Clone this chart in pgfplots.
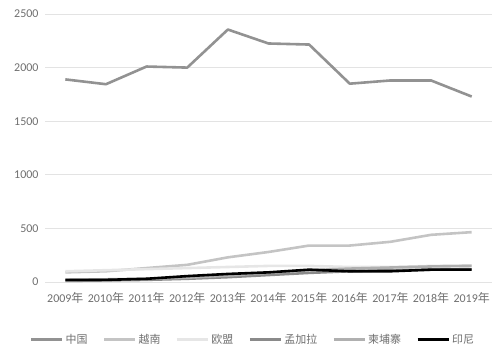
\documentclass[border=0pt]{standalone}
\usepackage{fontspec}
\setmainfont{Carlito}
\newfontfamily\cjk{Noto Sans CJK SC}
\usepackage{pgfplots}
\pgfplotsset{compat=1.18}
\definecolor{txt}{HTML}{6F6F6F}
\definecolor{grid}{HTML}{E3E3E3}
\definecolor{cCN}{HTML}{929292}
\definecolor{cVN}{HTML}{C4C4C4}
\definecolor{cEU}{HTML}{E6E6E6}
\definecolor{cBD}{HTML}{8A8A8A}
\definecolor{cKH}{HTML}{B0B0B0}
\definecolor{cID}{HTML}{000000}
\begin{document}
\begin{tikzpicture}
\begin{axis}[
  name=ax,
  at={(0,0)}, anchor=south west,
  scale only axis,
  width=447bp, height=268bp,
  xmin=-0.5, xmax=10.5,
  ymin=0, ymax=2500,
  xtick={0,...,10},
  xticklabels={2009{\cjk 年},2010{\cjk 年},2011{\cjk 年},2012{\cjk 年},2013{\cjk 年},2014{\cjk 年},2015{\cjk 年},2016{\cjk 年},2017{\cjk 年},2018{\cjk 年},2019{\cjk 年}},
  ytick={0,500,...,2500},
  /pgf/number format/assume math mode=true,
  /pgf/number format/set thousands separator={},
  ticklabel style={font=\fontsize{12}{14}\selectfont, text=txt},
  axis line style={draw=none},
  major tick length=0pt,
  ymajorgrids, grid style={draw=grid, line width=0.9bp},
  xticklabel style={yshift=-10bp, inner sep=0pt},
  yticklabel style={xshift=-3bp},
  every axis plot/.append style={line width=2.6bp, line join=round, mark=none},
  legend style={draw=none, at={(0.465,-0.18)}, anchor=north, legend columns=6,
    font=\cjk\fontsize{11}{13}\selectfont, text=txt,
    /tikz/every even column/.append style={column sep=13bp},
    /tikz/every odd column/.append style={inner xsep=1bp}},
  legend image code/.code={\draw[#1, line width=3bp] (-2bp,0bp) -- (29bp,0bp);},
  clip=false,
]
\addplot[cCN] coordinates {(0,1890)(1,1845)(2,2010)(3,2000)(4,2355)(5,2225)(6,2215)(7,1850)(8,1880)(9,1880)(10,1730)};
\addlegendentry{中国}
\addplot[cVN] coordinates {(0,90)(1,100)(2,130)(3,160)(4,230)(5,280)(6,340)(7,340)(8,375)(9,440)(10,465)};
\addlegendentry{越南}
\addplot[cEU] coordinates {(0,100)(1,110)(2,120)(3,130)(4,140)(5,150)(6,150)(7,140)(8,140)(9,150)(10,155)};
\addlegendentry{欧盟}
\addplot[cBD] coordinates {(0,10)(1,15)(2,20)(3,30)(4,45)(5,65)(6,85)(7,100)(8,110)(9,115)(10,120)};
\addlegendentry{孟加拉}
\addplot[cKH] coordinates {(0,20)(1,25)(2,30)(3,40)(4,60)(5,85)(6,110)(7,125)(8,135)(9,145)(10,150)};
\addlegendentry{柬埔寨}
\addplot[cID] coordinates {(0,20)(1,20)(2,30)(3,55)(4,75)(5,90)(6,115)(7,100)(8,100)(9,115)(10,115)};
\addlegendentry{印尼}
\end{axis}
\useasboundingbox (-45bp,-72bp) rectangle (455bp,282bp);
\end{tikzpicture}
\end{document}
